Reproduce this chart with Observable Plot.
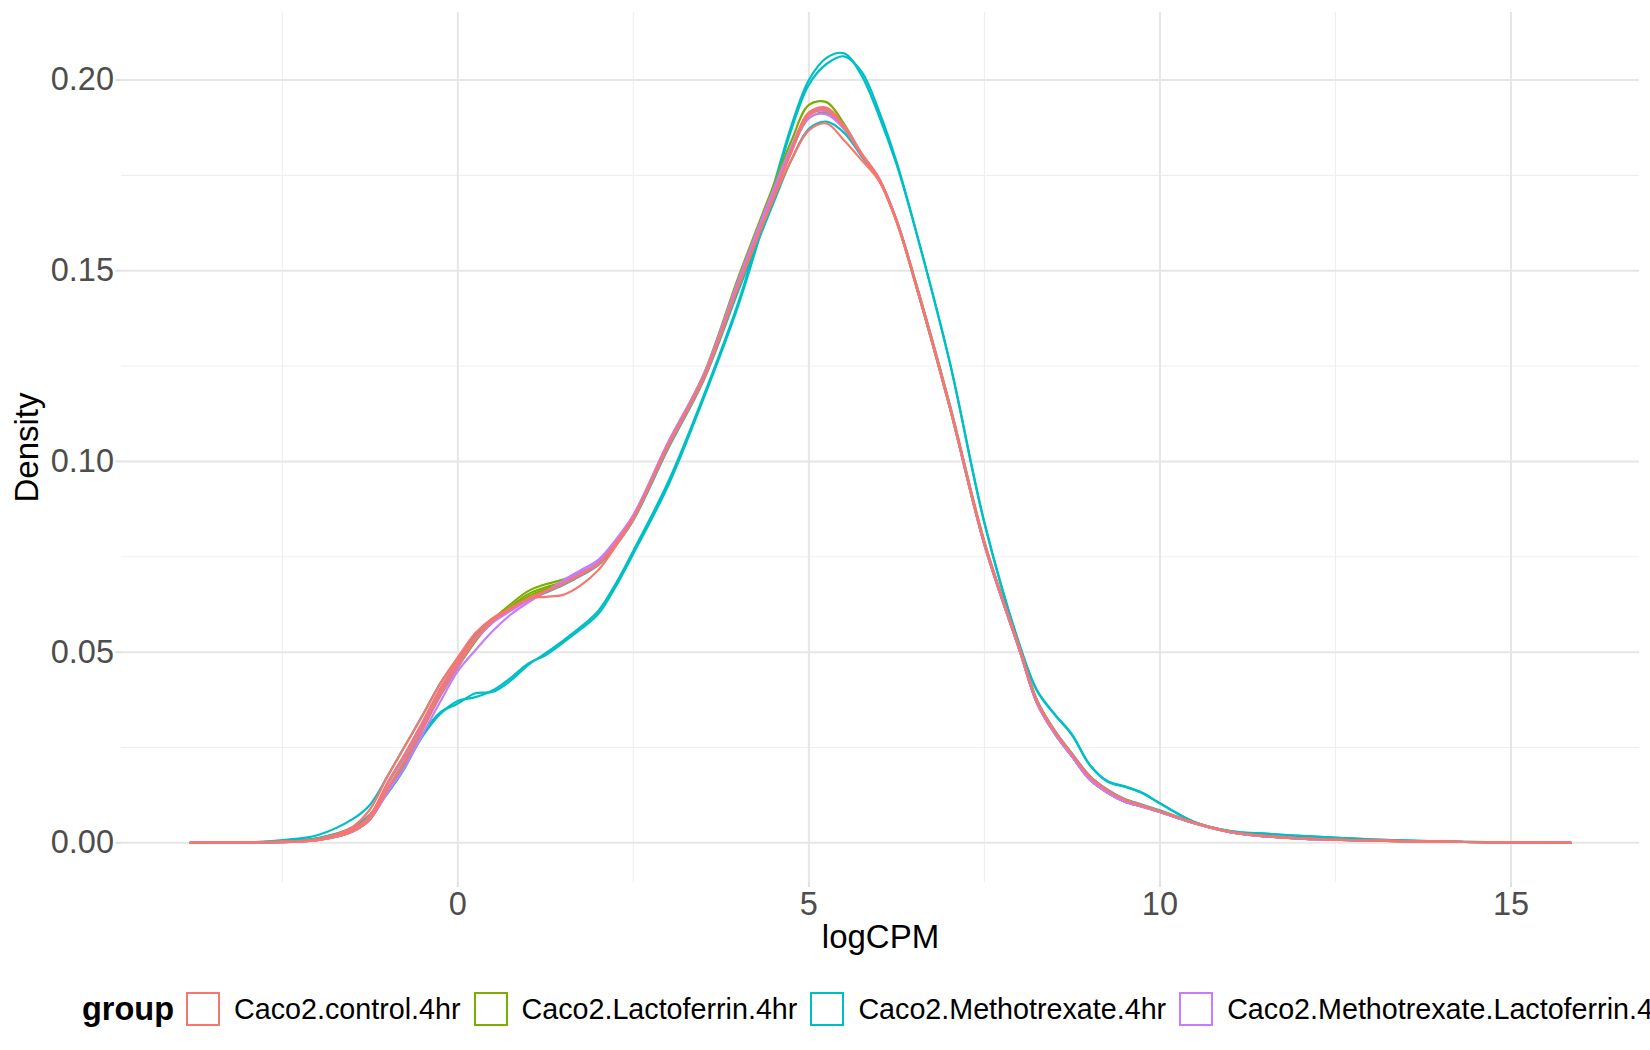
<!DOCTYPE html>
<html>
<head>
<meta charset="utf-8">
<script src="https://cdn.jsdelivr.net/npm/d3@7"></script>
<script src="https://cdn.jsdelivr.net/npm/@observablehq/plot@0.6"></script>
<style>
html, body { margin: 0; padding: 0; background: #ffffff; width: 1650px; height: 1050px; overflow: hidden; }
body { font-family: "Liberation Sans", Arial, Helvetica, sans-serif; position: relative; }
#chart { position: absolute; left: 0; top: 0; }
#legend { position: absolute; left: 82px; top: 992px; height: 34px; display: flex; align-items: center; white-space: nowrap; }
#legend .title { font-weight: bold; font-size: 32.5px; color: #000; margin-right: 12px; }
#legend .key { width: 34px; height: 34px; box-sizing: border-box; border: 2px solid; margin-right: 14px; flex: none; }
#legend .lab { font-size: 28.7px; color: #000; margin-right: 13px; }
</style>
</head>
<body>
<div id="chart"></div>
<div id="legend"></div>
<script>
// logCPM grid at which the density curves were read
const logCPM = [-3.81,-3,-2.5,-2,-1.5,-1.25,-1,-0.75,-0.5,-0.25,0,0.25,0.5,0.75,1,1.25,1.5,1.75,2,2.25,2.5,3,3.5,4,4.5,4.75,5,5.25,5.5,5.75,6,6.25,6.5,7,7.5,8,8.25,8.5,8.75,9,9.25,9.5,9.75,10,10.5,11,11.5,12,13,14,15,15.85];

const groups = ["Caco2.control.4hr", "Caco2.Lactoferrin.4hr", "Caco2.Methotrexate.4hr", "Caco2.Methotrexate.Lactoferrin.4hr"];
const groupColors = ["#F8766D", "#7CAE00", "#00BFC4", "#C77CFF"];

// densities per sample
const ctrl1 = [0.0000,0.0001,0.0003,0.0010,0.0042,0.0088,0.0175,0.0255,0.0335,0.0418,0.0486,0.0550,0.0590,0.0615,0.0638,0.0658,0.0678,0.0702,0.0730,0.0785,0.0852,0.1042,0.1218,0.1462,0.1695,0.1815,0.1915,0.1928,0.1880,0.1808,0.1742,0.1632,0.1482,0.1152,0.0788,0.0510,0.0372,0.0293,0.0232,0.0174,0.0138,0.0113,0.0098,0.0083,0.0052,0.0029,0.0018,0.0012,0.0006,0.0003,0.0001,0.0000];
const ctrl2 = [0.0000,0.0001,0.0003,0.0009,0.0035,0.0072,0.0158,0.0235,0.0318,0.0405,0.0478,0.0540,0.0584,0.0612,0.0640,0.0660,0.0680,0.0705,0.0732,0.0786,0.0853,0.1045,0.1220,0.1465,0.1698,0.1810,0.1908,0.1920,0.1876,0.1805,0.1740,0.1630,0.1480,0.1150,0.0786,0.0510,0.0372,0.0293,0.0232,0.0174,0.0138,0.0113,0.0098,0.0083,0.0052,0.0029,0.0018,0.0012,0.0006,0.0003,0.0001,0.0000];
const ctrl3 = [0.0000,0.0001,0.0002,0.0007,0.0030,0.0062,0.0140,0.0215,0.0300,0.0390,0.0465,0.0535,0.0583,0.0615,0.0640,0.0645,0.0650,0.0675,0.0715,0.0778,0.0848,0.1040,0.1215,0.1460,0.1690,0.1790,0.1868,0.1886,0.1842,0.1790,0.1735,0.1628,0.1480,0.1150,0.0786,0.0510,0.0372,0.0293,0.0232,0.0174,0.0138,0.0113,0.0098,0.0083,0.0052,0.0029,0.0018,0.0012,0.0006,0.0003,0.0001,0.0000];
const lacto1 = [0.0000,0.0001,0.0002,0.0007,0.0030,0.0062,0.0138,0.0212,0.0298,0.0385,0.0460,0.0528,0.0585,0.0625,0.0660,0.0678,0.0690,0.0710,0.0735,0.0788,0.0856,0.1050,0.1228,0.1485,0.1725,0.1840,0.1935,0.1942,0.1885,0.1806,0.1738,0.1628,0.1478,0.1146,0.0782,0.0505,0.0366,0.0287,0.0226,0.0166,0.0132,0.0108,0.0095,0.0081,0.0051,0.0028,0.0017,0.0011,0.0006,0.0003,0.0001,0.0000];
const lacto2 = [0.0000,0.0001,0.0002,0.0007,0.0030,0.0062,0.0142,0.0218,0.0302,0.0390,0.0463,0.0530,0.0580,0.0618,0.0652,0.0670,0.0684,0.0707,0.0733,0.0786,0.0853,0.1046,0.1222,0.1478,0.1712,0.1815,0.1900,0.1913,0.1872,0.1804,0.1740,0.1630,0.1478,0.1146,0.0782,0.0505,0.0366,0.0287,0.0226,0.0166,0.0132,0.0108,0.0095,0.0081,0.0051,0.0028,0.0017,0.0011,0.0006,0.0003,0.0001,0.0000];
const lacto3 = [0.0000,0.0001,0.0003,0.0009,0.0035,0.0072,0.0155,0.0230,0.0312,0.0400,0.0472,0.0538,0.0584,0.0616,0.0646,0.0665,0.0683,0.0706,0.0732,0.0786,0.0853,0.1046,0.1222,0.1472,0.1705,0.1820,0.1910,0.1924,0.1878,0.1806,0.1740,0.1630,0.1480,0.1148,0.0784,0.0505,0.0366,0.0287,0.0226,0.0166,0.0132,0.0108,0.0095,0.0081,0.0051,0.0028,0.0017,0.0011,0.0006,0.0003,0.0001,0.0000];
const mtx1 = [0.0000,0.0001,0.0004,0.0012,0.0038,0.0072,0.0130,0.0198,0.0285,0.0342,0.0365,0.0392,0.0396,0.0425,0.0466,0.0497,0.0530,0.0566,0.0608,0.0680,0.0766,0.0948,0.1172,0.1420,0.1725,0.1880,0.2000,0.2058,0.2070,0.2012,0.1905,0.1778,0.1620,0.1265,0.0840,0.0520,0.0400,0.0338,0.0284,0.0205,0.0162,0.0148,0.0131,0.0104,0.0054,0.0031,0.0024,0.0018,0.0009,0.0004,0.0001,0.0000];
const mtx2 = [0.0000,0.0001,0.0004,0.0012,0.0040,0.0075,0.0134,0.0202,0.0280,0.0338,0.0372,0.0382,0.0400,0.0432,0.0470,0.0492,0.0525,0.0560,0.0600,0.0672,0.0758,0.0938,0.1165,0.1412,0.1715,0.1870,0.1988,0.2042,0.2062,0.2022,0.1918,0.1785,0.1622,0.1265,0.0838,0.0518,0.0398,0.0336,0.0282,0.0204,0.0161,0.0147,0.0130,0.0103,0.0054,0.0031,0.0024,0.0018,0.0009,0.0004,0.0001,0.0000];
const mtx3 = [0.0000,0.0001,0.0007,0.0020,0.0062,0.0100,0.0175,0.0255,0.0335,0.0418,0.0485,0.0545,0.0586,0.0612,0.0636,0.0656,0.0676,0.0700,0.0728,0.0780,0.0846,0.1035,0.1212,0.1450,0.1680,0.1790,0.1872,0.1891,0.1862,0.1800,0.1738,0.1632,0.1484,0.1154,0.0790,0.0512,0.0374,0.0295,0.0234,0.0176,0.0140,0.0115,0.0100,0.0085,0.0053,0.0029,0.0019,0.0013,0.0007,0.0003,0.0001,0.0000];
const mtxLacto1 = [0.0000,0.0001,0.0002,0.0007,0.0030,0.0062,0.0132,0.0200,0.0285,0.0370,0.0450,0.0505,0.0556,0.0598,0.0630,0.0658,0.0688,0.0715,0.0742,0.0795,0.0860,0.1052,0.1226,0.1478,0.1715,0.1825,0.1912,0.1922,0.1880,0.1808,0.1742,0.1632,0.1480,0.1148,0.0782,0.0505,0.0366,0.0287,0.0226,0.0166,0.0132,0.0108,0.0095,0.0081,0.0051,0.0028,0.0017,0.0011,0.0006,0.0003,0.0001,0.0000];
const mtxLacto2 = [0.0000,0.0001,0.0002,0.0007,0.0030,0.0062,0.0140,0.0215,0.0300,0.0388,0.0462,0.0532,0.0578,0.0608,0.0636,0.0658,0.0682,0.0708,0.0736,0.0790,0.0856,0.1048,0.1224,0.1470,0.1705,0.1815,0.1900,0.1910,0.1872,0.1805,0.1740,0.1630,0.1480,0.1148,0.0782,0.0505,0.0366,0.0287,0.0226,0.0166,0.0132,0.0108,0.0095,0.0081,0.0051,0.0028,0.0017,0.0011,0.0006,0.0003,0.0001,0.0000];
const mtxLacto3 = [0.0000,0.0001,0.0003,0.0009,0.0035,0.0072,0.0155,0.0230,0.0312,0.0400,0.0472,0.0538,0.0582,0.0610,0.0638,0.0660,0.0682,0.0708,0.0736,0.0790,0.0856,0.1048,0.1222,0.1470,0.1702,0.1818,0.1908,0.1918,0.1876,0.1806,0.1740,0.1630,0.1480,0.1148,0.0784,0.0505,0.0366,0.0287,0.0226,0.0166,0.0132,0.0108,0.0095,0.0081,0.0051,0.0028,0.0017,0.0011,0.0006,0.0003,0.0001,0.0000];

// drawing order (later = on top)
const sampleNames = ["mtx1","mtx2","mtx3","lacto1","lacto2","lacto3","mtxLacto1","mtxLacto2","mtxLacto3","ctrl1","ctrl2","ctrl3"];
const sampleGroups = [groups[2],groups[2],groups[2],groups[1],groups[1],groups[1],groups[3],groups[3],groups[3],groups[0],groups[0],groups[0]];
const sampleValues = [mtx1,mtx2,mtx3,lacto1,lacto2,lacto3,mtxLacto1,mtxLacto2,mtxLacto3,ctrl1,ctrl2,ctrl3];

const xTicks = [0, 5, 10, 15];
const xMinor = [-2.5, 2.5, 7.5, 12.5];
const yTicks = [0, 0.05, 0.10, 0.15, 0.20];
const yMinor = [0.025, 0.075, 0.125, 0.175];

const rows = [];
sampleNames.forEach((s, i) => {
  sampleValues[i].forEach((d, j) => rows.push({sample: s, group: sampleGroups[i], logCPM: logCPM[j], density: d}));
});

const font = "'Liberation Sans', Arial, Helvetica, sans-serif";
const chart = Plot.plot({
  width: 1650,
  height: 965,
  marginLeft: 121,
  marginRight: 11,
  marginTop: 12,
  marginBottom: 83,
  style: {fontFamily: font, fontSize: "32.5px", background: "#ffffff", overflow: "visible"},
  x: {domain: [-4.79, 16.83]},
  y: {domain: [-0.0104, 0.2177]},
  color: {domain: groups, range: groupColors},
  marks: [
    Plot.gridX(xMinor, {stroke: "#EFEFEF", strokeOpacity: 1, strokeWidth: 1.1}),
    Plot.gridY(yMinor, {stroke: "#EFEFEF", strokeOpacity: 1, strokeWidth: 1.1}),
    Plot.gridX(xTicks, {stroke: "#E6E6E6", strokeOpacity: 1, strokeWidth: 2}),
    Plot.gridY(yTicks, {stroke: "#E6E6E6", strokeOpacity: 1, strokeWidth: 2}),
    Plot.axisX(xTicks, {tickSize: 5, tickPadding: 4, stroke: "#E0E0E0", strokeWidth: 2, fill: "#4D4D4D", fontSize: 32.5, tickFormat: d => String(d), label: null}),
    Plot.axisY(yTicks, {tickSize: 5.5, tickPadding: 2, stroke: "#E0E0E0", strokeWidth: 2, fill: "#4D4D4D", fontSize: 32.5, tickFormat: d => d.toFixed(2), label: null}),
    Plot.line(rows, {x: "logCPM", y: "density", z: "sample", stroke: "group", strokeWidth: 2.2, curve: "catmull-rom"}),
    Plot.text(["logCPM"], {frameAnchor: "bottom", dy: 55, lineAnchor: "middle", textAnchor: "middle", fontSize: 33, fill: "#000", fontFamily: font}),
    Plot.text(["Density"], {frameAnchor: "left", dx: -94, rotate: -90, textAnchor: "middle", lineAnchor: "middle", fontSize: 33, fill: "#000", fontFamily: font})
  ]
});
document.getElementById("chart").appendChild(chart);

const legend = document.getElementById("legend");
const t = document.createElement("span");
t.className = "title";
t.textContent = "group";
legend.appendChild(t);
groups.forEach((g, i) => {
  const k = document.createElement("span");
  k.className = "key";
  k.style.borderColor = groupColors[i];
  legend.appendChild(k);
  const l = document.createElement("span");
  l.className = "lab";
  l.textContent = g;
  legend.appendChild(l);
});
</script>
</body>
</html>
